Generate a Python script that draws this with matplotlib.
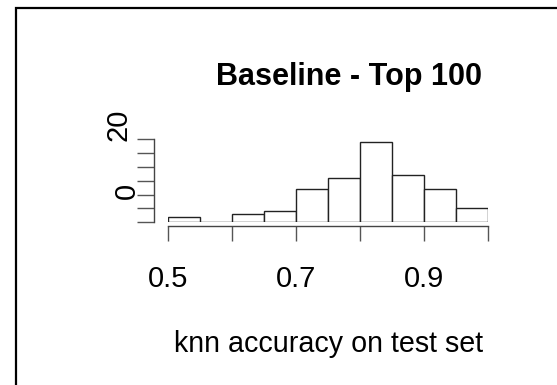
import numpy as np
import matplotlib
matplotlib.use("Agg")
import matplotlib.pyplot as plt
from matplotlib.lines import Line2D

plt.rcParams['font.family'] = ['Liberation Sans', 'DejaVu Sans']

# histogram of knn accuracy (bins of 0.05 from 0.5 to 1.0)
bin_edges = [0.50, 0.55, 0.60, 0.65, 0.70, 0.75, 0.80, 0.85, 0.90, 0.95, 1.00]
counts = [2, 0, 3, 4, 12, 16, 29, 17, 12, 5]
x_ticks = [0.5, 0.6, 0.7, 0.8, 0.9, 1.0]
x_labels = ["0.5", "", "0.7", "", "0.9", ""]
y_ticks = [0, 5, 10, 15, 20, 25, 30]

W, H = 557, 385
def fx(px):
    return px / W
def fy(py):
    return 1 - py / H

fig = plt.figure(figsize=(W / 100, H / 100), dpi=100)
ax = fig.add_axes([fx(168), fy(222.3), fx(488) - fx(168), fy(139.3) - fy(222.3)])

ax.bar(bin_edges[:-1], counts, width=0.05, align='edge',
       facecolor='white', edgecolor='#222222', linewidth=1.0)

ax.set_xlim(0.5, 1.0)
ax.set_ylim(0, 30)

for s in ['top', 'right']:
    ax.spines[s].set_visible(False)
ax.spines['bottom'].set_position(('outward', 2.9))
ax.spines['left'].set_position(('outward', 10.1))
for s in ['bottom', 'left']:
    ax.spines[s].set_color('#444444')
    ax.spines[s].set_linewidth(1.0)

ax.set_xticks(x_ticks)
ax.set_xticklabels(x_labels)
ax.tick_params(axis='x', direction='out', length=10.8, width=1.0,
               color='#555555', labelsize=21, pad=17)
ax.set_yticks(y_ticks)
ax.set_yticklabels([])
ax.tick_params(axis='y', direction='out', length=12.2, width=1.0,
               color='#555555')

# y labels as they appear in the picture
fig.text(fx(127), fy(190.5), "0", rotation=90, fontsize=21,
         ha='center', va='center')
fig.text(fx(118), fy(125), "20", rotation=90, fontsize=21,
         ha='center', va='center')

fig.text(fx(348.5), fy(85), "Baseline - Top 100", fontsize=22,
         fontweight='bold', ha='center', va='baseline')
fig.text(fx(329), fy(352.3), "knn accuracy on test set", fontsize=20.6,
         ha='center', va='baseline')

# frame (left and top edges)
fig.add_artist(Line2D([fx(15.8), fx(15.8), fx(560)], [fy(390), fy(7.8), fy(7.8)],
                      transform=fig.transFigure, color='black', linewidth=1.6,
                      solid_joinstyle='miter'))

fig.savefig("out.png", dpi=100)
